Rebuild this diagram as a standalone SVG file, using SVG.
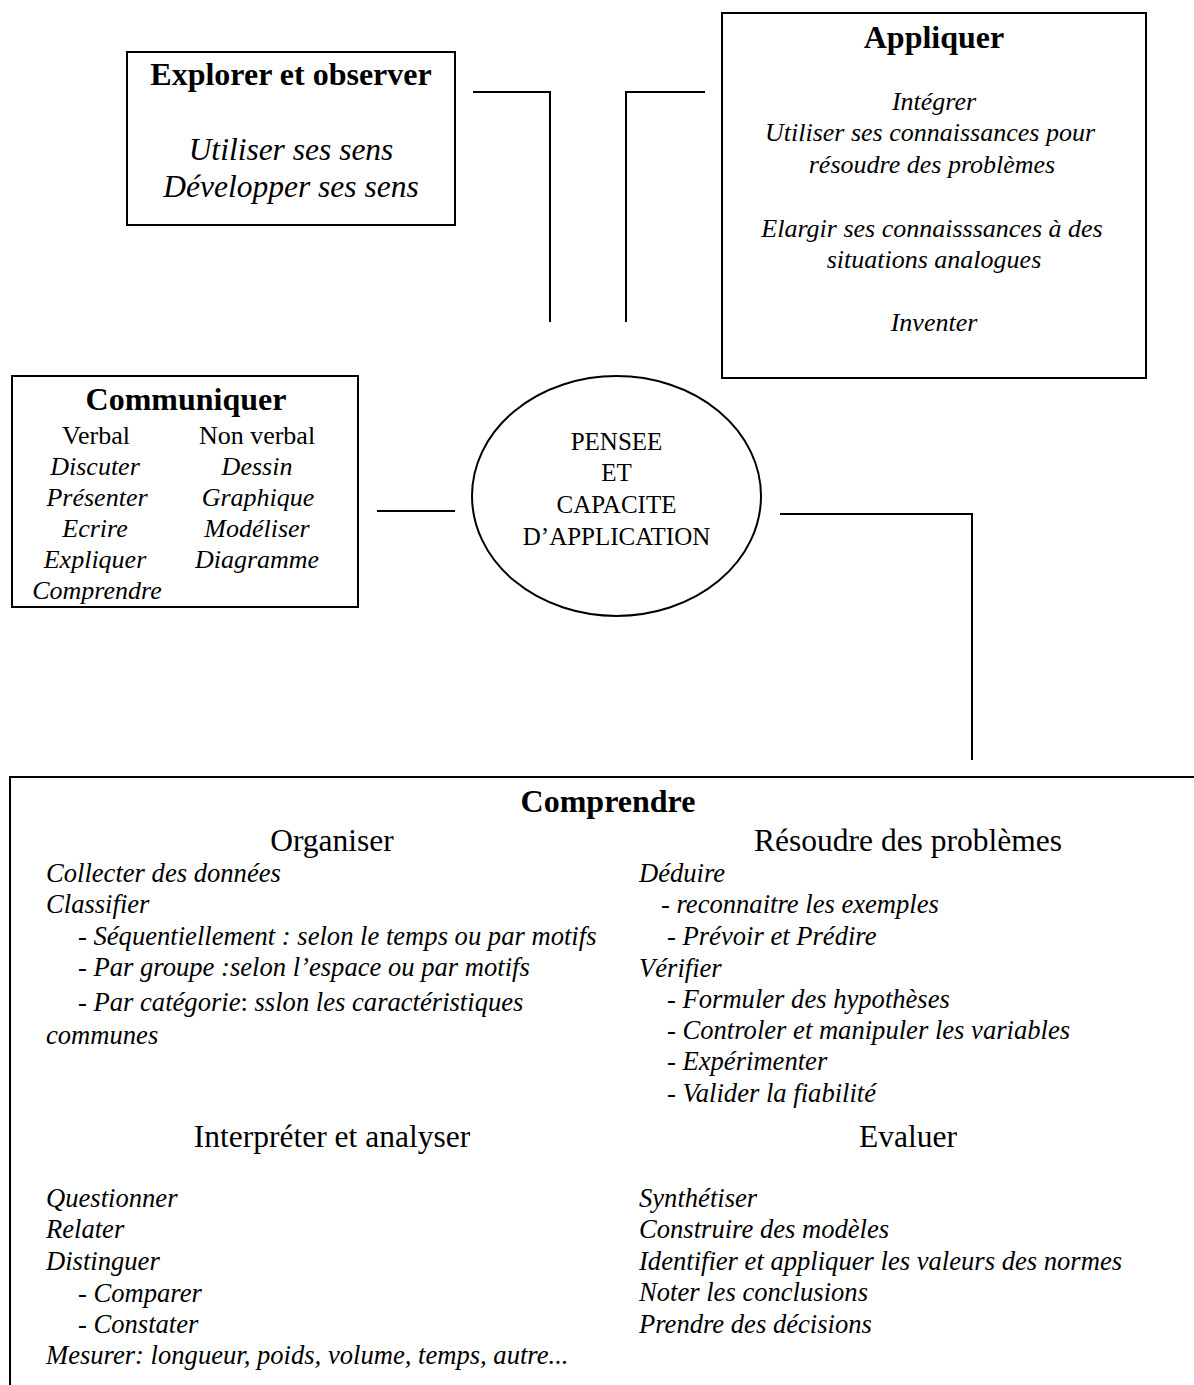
<svg xmlns="http://www.w3.org/2000/svg" width="1194" height="1385" viewBox="0 0 1194 1385">
<style>
text{font-family:"Liberation Serif","Times New Roman",serif;fill:#000}
.box{fill:none;stroke:#000;stroke-width:2}
.conn{fill:none;stroke:#000;stroke-width:2}
.h{font-weight:bold;font-size:32px;text-anchor:middle}
.s{font-size:31.5px;text-anchor:middle}
.i32{font-style:italic;font-size:31.5px;text-anchor:middle}
.ic{font-style:italic;font-size:26px;text-anchor:middle}
.rc{font-size:26px;text-anchor:middle}
.e{font-size:25px;text-anchor:middle}
.i{font-style:italic;font-size:26.6px}
.n{font-style:normal}
</style>
<rect width="1194" height="1385" fill="#fff"/>
<g id="connectors">
<path class="conn" d="M473 92H550V322"/>
<path class="conn" d="M626 322V92H705"/>
<path class="conn" d="M377 511H455"/>
<path class="conn" d="M780 514H972V760"/>
</g>
<g id="explorer">
<rect class="box" x="127" y="52" width="328" height="173"/>
<text class="h" x="291" y="85">Explorer et observer</text>
<text class="i32" x="291" y="160">Utiliser ses sens</text>
<text class="i32" x="291" y="197">Développer ses sens</text>
</g>
<g id="appliquer">
<rect class="box" x="722" y="13" width="424" height="365"/>
<text class="h" x="934" y="48">Appliquer</text>
<text class="ic" x="934" y="110">Intégrer</text>
<text class="ic" x="930" y="141">Utiliser ses connaissances pour</text>
<text class="ic" x="932" y="173">résoudre des problèmes</text>
<text class="ic" x="932" y="237">Elargir ses connaisssances à des</text>
<text class="ic" x="934" y="268">situations analogues</text>
<text class="ic" x="934" y="331">Inventer</text>
</g>
<g id="communiquer">
<rect class="box" x="12" y="376" width="346" height="231"/>
<text class="h" x="186" y="410">Communiquer</text>
<text class="rc" x="96" y="444">Verbal</text>
<text class="rc" x="257" y="444">Non verbal</text>
<text class="ic" x="95" y="475">Discuter</text>
<text class="ic" x="257" y="475">Dessin</text>
<text class="ic" x="97" y="506">Présenter</text>
<text class="ic" x="258" y="506">Graphique</text>
<text class="ic" x="95" y="537">Ecrire</text>
<text class="ic" x="257" y="537">Modéliser</text>
<text class="ic" x="95" y="568">Expliquer</text>
<text class="ic" x="257" y="568">Diagramme</text>
<text class="ic" x="97" y="599">Comprendre</text>
</g>
<g id="pensee">
<ellipse class="box" cx="616.5" cy="496" rx="144.5" ry="120"/>
<text class="e" x="616.5" y="450">PENSEE</text>
<text class="e" x="616.5" y="481">ET</text>
<text class="e" x="616.5" y="513">CAPACITE</text>
<text class="e" x="616.5" y="545">D’APPLICATION</text>
</g>
<g id="comprendre">
<path class="box" d="M10 1385V777H1194"/>
<text class="h" x="608" y="812">Comprendre</text>
<text class="s" x="332" y="851">Organiser</text>
<text class="s" x="908" y="851">Résoudre des problèmes</text>
<text class="i" x="46" y="882">Collecter des données</text>
<text class="i" x="46" y="913">Classifier</text>
<text class="i" x="78" y="945">- Séquentiellement : selon le temps ou par motifs</text>
<text class="i" x="78" y="976">- Par groupe :selon l’espace ou par motifs</text>
<text class="i" x="78" y="1011">- Par catégorie<tspan class="n">:</tspan> sslon les caractéristiques</text>
<text class="i" x="46" y="1044">communes</text>
<text class="i" x="639" y="882">Déduire</text>
<text class="i" x="661" y="913">- reconnaitre les exemples</text>
<text class="i" x="667" y="945">- Prévoir et Prédire</text>
<text class="i" x="639" y="977">Vérifier</text>
<text class="i" x="667" y="1008">- Formuler des hypothèses</text>
<text class="i" x="667" y="1039">- Controler et manipuler les variables</text>
<text class="i" x="667" y="1070">- Expérimenter</text>
<text class="i" x="667" y="1102">- Valider la fiabilité</text>
<text class="s" x="332" y="1147">Interpréter et analyser</text>
<text class="s" x="908" y="1147">Evaluer</text>
<text class="i" x="46" y="1207">Questionner</text>
<text class="i" x="46" y="1238">Relater</text>
<text class="i" x="46" y="1270">Distinguer</text>
<text class="i" x="78" y="1302">- Comparer</text>
<text class="i" x="78" y="1333">- Constater</text>
<text class="i" x="46" y="1364">Mesurer: longueur, poids, volume, temps, autre...</text>
<text class="i" x="639" y="1207">Synthétiser</text>
<text class="i" x="639" y="1238">Construire des modèles</text>
<text class="i" x="639" y="1270">Identifier et appliquer les valeurs des normes</text>
<text class="i" x="639" y="1301">Noter les conclusions</text>
<text class="i" x="639" y="1333">Prendre des décisions</text>
</g>
</svg>
